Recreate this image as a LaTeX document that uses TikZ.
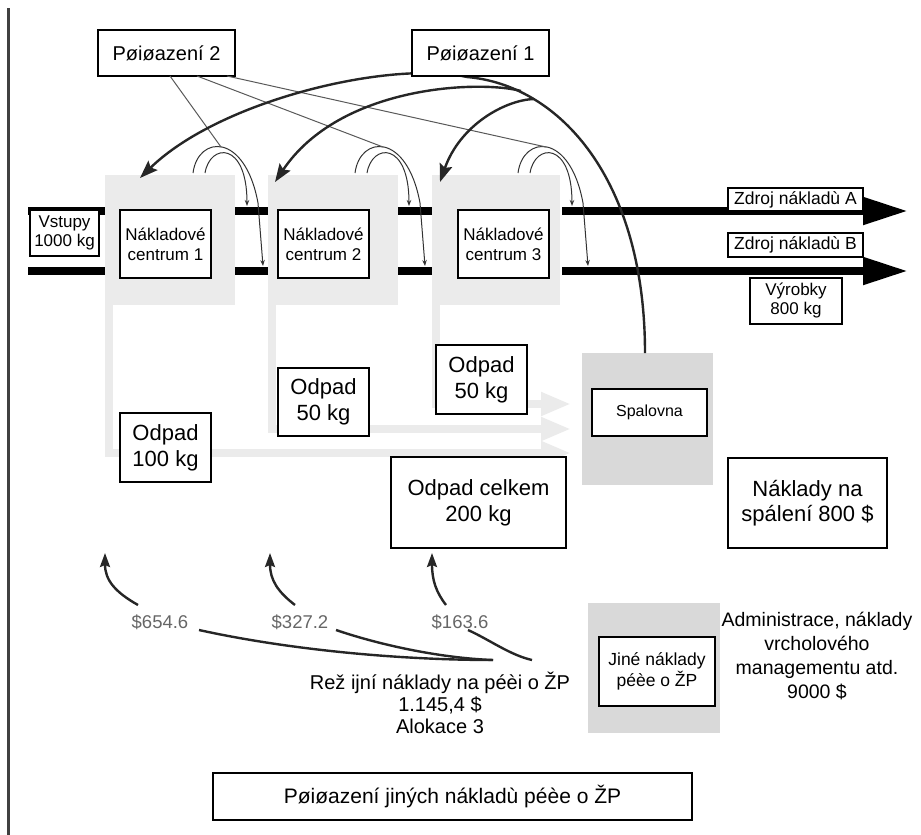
\documentclass[tikz,border=0pt]{standalone}
\usepackage{fontspec}
\setmainfont{Liberation Sans}
\usetikzlibrary{arrows.meta}
\newcommand\setfs[2]{\fontsize{#1}{#2}\selectfont}
\begin{document}
\begin{tikzpicture}[x=1pt,y=-1pt,
  box/.style={draw=black,line width=1.6pt,fill=white,align=center,inner sep=0pt},
  plain/.style={align=center,inner sep=0pt},
  ccbg/.style={fill=black!8},
  darkbg/.style={fill=black!15},
  waste/.style={draw=black!8,line width=8pt,-{Triangle[length=30pt,width=22pt]}},
  flowbar/.style={draw=black,line width=8pt},
  bigtip/.style={-{Triangle[length=45pt,width=26pt]}},
  thinarc/.style={draw=black!80,line width=1pt,-{Stealth[length=6pt,width=4.5pt]}},
  fan/.style={draw=black!65,line width=1pt},
  thickline/.style={draw=black!85,line width=2.4pt},
  thickarrow/.style={thickline,-{Stealth[length=18pt,width=13pt,inset=3pt]}},
  uparrow/.style={thickline,-{Stealth[length=14pt,width=10pt,inset=2pt]}},
  money/.style={plain,text=black!60,font=\setfs{18.5}{21}},
]
\useasboundingbox (0,0) rectangle (921,835);
% left border line
\draw[black!75,line width=3pt] (8,8) -- (8,835);

% ---------- backgrounds ----------
\fill[ccbg] (105,175) rectangle (235,305);
\fill[ccbg] (268,175) rectangle (398,305);
\fill[ccbg] (432,175) rectangle (560,305);
\fill[darkbg] (582,353) rectangle (713,485);
\fill[darkbg] (588,603) rectangle (720,733);

% waste flows
\coordinate (w1s) at (109,305);
\coordinate (w2s) at (272,305);
\coordinate (w3s) at (436,305);
\coordinate (w1e) at (571,453);
\coordinate (w2e) at (571,429);
\coordinate (w3e) at (571,404);
\draw[waste] (w1s) |- (w1e);
\draw[waste] (w2s) |- (w2e);
\draw[waste] (w3s) |- (w3e);

% ---------- flow bars ----------
\draw[flowbar] (28,211) -- (105,211);
\draw[flowbar] (28,271) -- (105,271);
\draw[flowbar] (235,211) -- (268,211);
\draw[flowbar] (235,271) -- (268,271);
\draw[flowbar] (398,211) -- (432,211);
\draw[flowbar] (398,271) -- (432,271);
\draw[flowbar,bigtip] (562,211) -- (908,211);
\draw[flowbar,bigtip] (562,271) -- (908,271);

% ---------- small allocation arcs ----------
\foreach \s in {0,162,325}{
  \begin{scope}[xshift=\s pt]
    \draw[thinarc] (193,173) .. controls (198,135) and (245,132) .. (258,203) -- (263,266);
    \draw[thinarc] (205,173) .. controls (210,143) and (247,141) .. (247,206);
  \end{scope}
}

% ---------- boxes at top ----------
\node[box,minimum width=137pt,minimum height=46pt,font=\setfs{20}{24}] (p2) at (166.5,53) {Pøiøazení 2};

\coordinate (f1a) at (170,76);
\coordinate (f2a) at (197,76);
\coordinate (f3a) at (227,76);
\coordinate (f1b) at (221,147);
\coordinate (f2b) at (383,147);
\coordinate (f3b) at (546,147);
\draw[fan] (f1a) -- (f1b);
\draw[fan] (f2a) -- (f2b);
\draw[fan] (f3a) -- (f3b);

% ---------- big allocation curves (Pøiøazení 1) ----------
\coordinate (sp) at (645,353);
\coordinate (j2) at (521,91);
\coordinate (j3) at (534,99);
\coordinate (t1) at (140,178);
\coordinate (t2) at (275,182);
\coordinate (t3) at (440,182);
\draw[thickarrow] (sp) .. controls (645,180) and (560,85) .. (467,77)
                       .. controls (390,60) and (220,100) .. (t1);
\draw[thickarrow] (j2) .. controls (480,80) and (340,85) .. (t2);
\draw[thickarrow] (j3) .. controls (505,100) and (460,125) .. (t3);

\node[box,minimum width=137pt,minimum height=46pt,font=\setfs{20}{24}] (p1) at (480.5,53) {Pøiøazení 1};

% ---------- process boxes ----------
\node[box,minimum width=69pt,minimum height=46pt,font=\setfs{17}{19}] (vst) at (64.5,233) {Vstupy\\1000 kg};
\node[box,minimum width=91pt,minimum height=68pt,font=\setfs{17}{20}] (nc1) at (165.5,244) {Nákladové\\centrum 1};
\node[box,minimum width=91pt,minimum height=68pt,font=\setfs{17}{20}] (nc2) at (323.5,244) {Nákladové\\centrum 2};
\node[box,minimum width=91pt,minimum height=68pt,font=\setfs{17}{20}] (nc3) at (503.5,244) {Nákladové\\centrum 3};
\node[box,minimum width=135pt,minimum height=23pt,font=\setfs{17.5}{20}] (za) at (795.5,199.5) {Zdroj nákladù A};
\node[box,minimum width=135pt,minimum height=24pt,font=\setfs{17.5}{20}] (zb) at (795.5,245) {Zdroj nákladù B};
\node[box,minimum width=92pt,minimum height=46pt,font=\setfs{17}{19}] (vyr) at (796,301) {Výrobky\\800 kg};

\node[box,minimum width=115pt,minimum height=47pt,font=\setfs{16}{19}] (spal) at (649.5,412.5) {Spalovna};
\node[box,minimum width=159pt,minimum height=90pt,font=\setfs{22}{25}] (nak) at (807.5,503) {Náklady na\\spálení 800 \$};
\node[box,minimum width=175pt,minimum height=91pt,font=\setfs{22}{26}] (celk) at (478.5,502.5) {Odpad celkem\\200 kg};
\node[box,minimum width=91pt,minimum height=69pt,font=\setfs{22}{26}] (o100) at (165.5,447.5) {Odpad\\100 kg};
\node[box,minimum width=91pt,minimum height=68pt,font=\setfs{22}{26}] (o50a) at (323.5,402) {Odpad\\50 kg};
\node[box,minimum width=91pt,minimum height=69pt,font=\setfs{22}{26}] (o50b) at (481.5,379.5) {Odpad\\50 kg};

% ---------- overhead allocation ----------
\node[money] (d1) at (160,622) {\$654.6};
\node[money] (d2) at (300,622) {\$327.2};
\node[money] (d3) at (460,622) {\$163.6};

\coordinate (u1s) at (138,605);
\coordinate (u2s) at (295,605);
\coordinate (u3s) at (446,605);
\coordinate (u1e) at (105,553);
\coordinate (u2e) at (270,553);
\coordinate (u3e) at (432,553);
\draw[uparrow] (u1s) .. controls (115,592) and (105,580) .. (u1e);
\draw[uparrow] (u2s) .. controls (278,592) and (270,580) .. (u2e);
\draw[uparrow] (u3s) .. controls (436,592) and (432,580) .. (u3e);

\node[plain,font=\setfs{20}{22}] (rez) at (440,703) {Rež ijní náklady na péèi o ŽP\\1.145,4 \$\\Alokace 3};
\coordinate (r1) at (493,660);
\coordinate (r3) at (532,660);
\coordinate (l1) at (199,630);
\coordinate (l2) at (336,630);
\coordinate (l3) at (468,630);
\draw[thickline] (l1) .. controls (290,650) and (400,660) .. (r1);
\draw[thickline] (l2) .. controls (380,645) and (440,658) .. (r1);
\draw[thickline] (l3) .. controls (490,640) and (510,655) .. (r3);

\node[box,minimum width=116pt,minimum height=69pt,font=\setfs{17.5}{21}] (jine) at (657,671.5) {Jiné náklady\\péèe o ŽP};
\node[plain,font=\setfs{19.5}{24}] (adm) at (817,656) {Administrace, náklady\\vrcholového\\managementu atd.\\9000 \$};

\node[box,minimum width=479pt,minimum height=47pt,font=\setfs{21}{24}] (bottom) at (452.5,796.5) {Pøiøazení jiných nákladù péèe o ŽP};
\end{tikzpicture}
\end{document}
